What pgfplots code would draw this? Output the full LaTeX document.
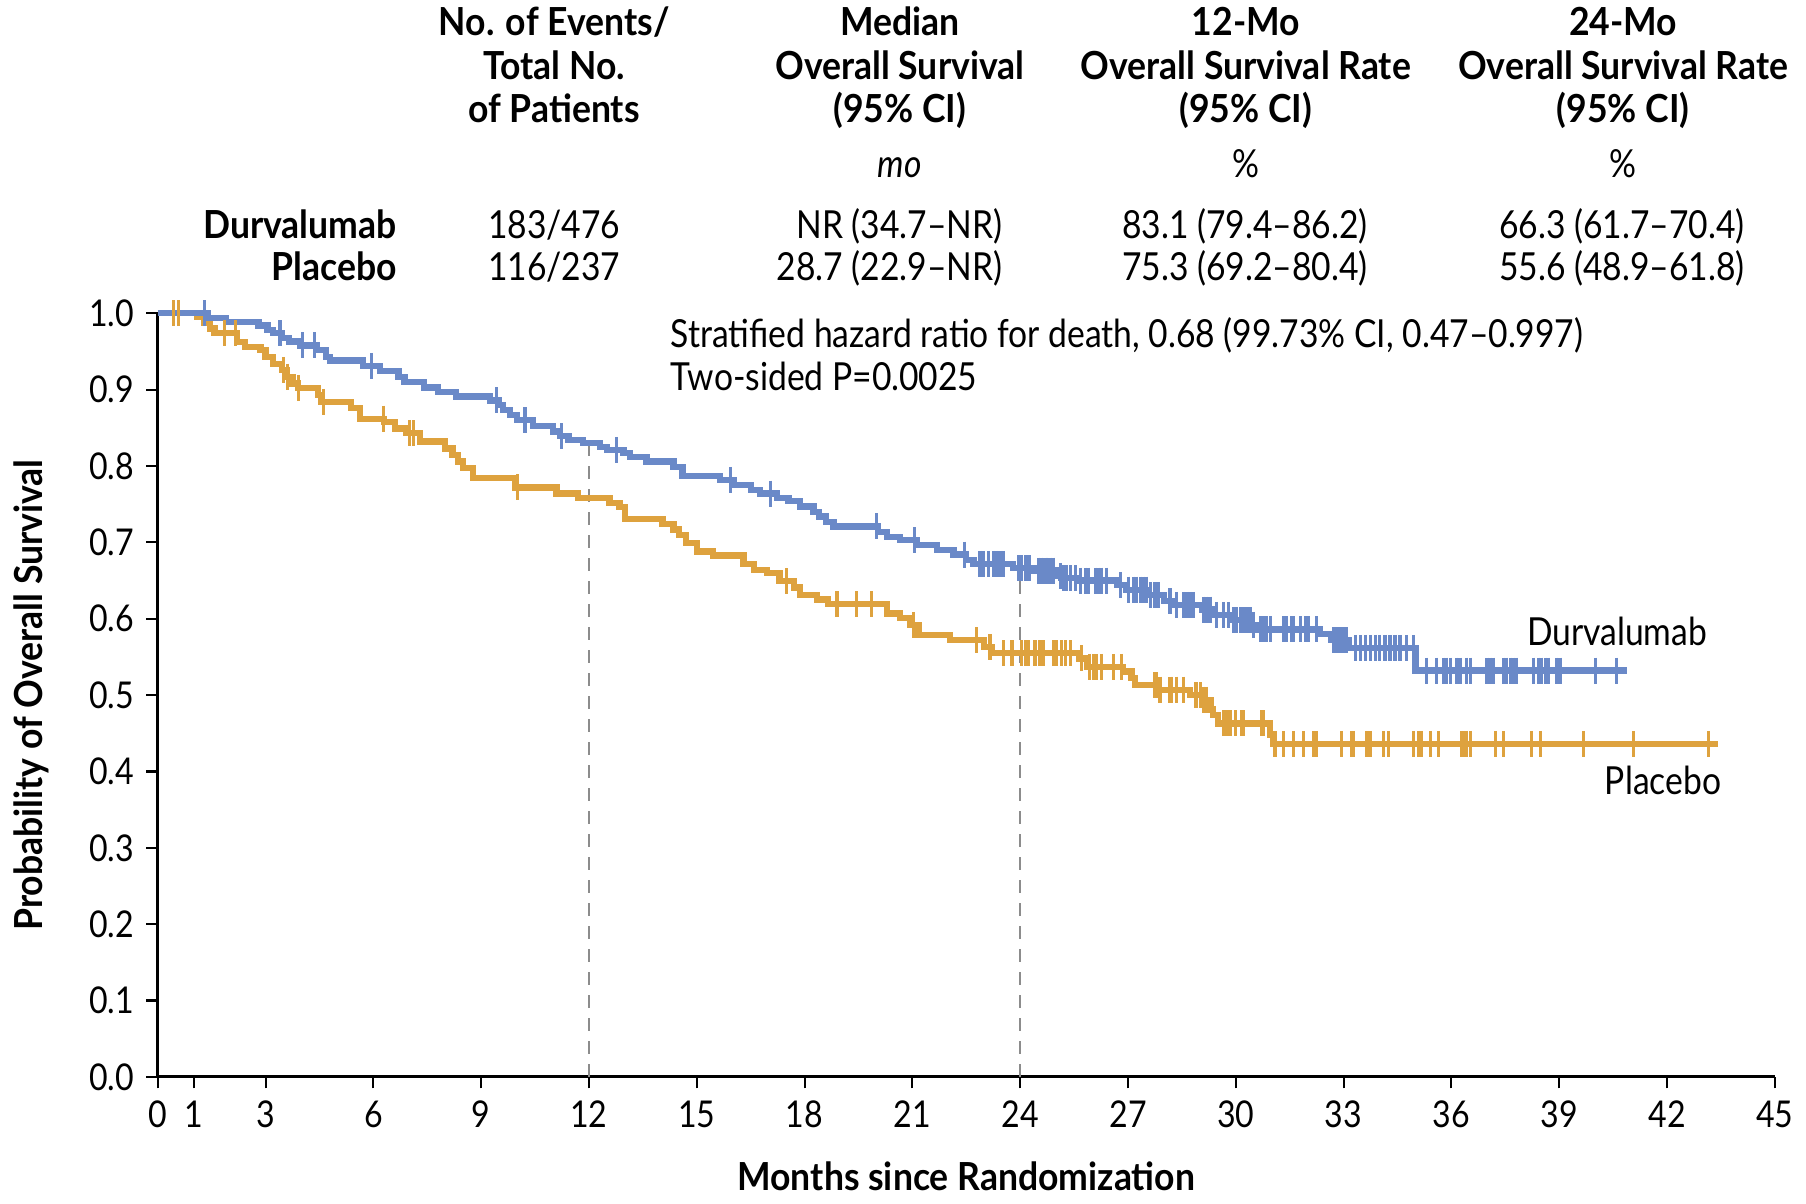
\documentclass[border=0pt]{standalone}
\usepackage{fontspec}
\setmainfont{Lato}[FakeStretch=0.87, BoldFeatures={FakeStretch=0.92}]
\usepackage{pgfplots}
\usepackage{pgfplotstable}
\pgfplotsset{compat=1.18}

\definecolor{durva}{RGB}{106,137,200}
\definecolor{plac}{RGB}{222,162,62}
\definecolor{refline}{RGB}{140,140,140}

% Kaplan-Meier steps: t = month, s = survival, c = 1 for a censored patient
\pgfplotstableread{
t s c
0 1.000 0
1.30 1.000 1
1.40 0.994 0
1.90 0.989 0
2.80 0.984 0
3.05 0.978 0
3.20 0.974 0
3.40 0.974 1
3.45 0.968 0
3.65 0.963 0
3.95 0.958 0
4.02 0.958 1
4.37 0.958 1
4.42 0.952 0
4.68 0.943 0
4.80 0.938 0
5.72 0.931 0
5.95 0.931 1
6.18 0.924 0
6.70 0.917 0
6.87 0.910 0
7.40 0.903 0
7.80 0.897 0
8.30 0.891 0
9.25 0.886 0
9.43 0.886 1
9.48 0.880 0
9.60 0.873 0
9.80 0.867 0
10.00 0.860 0
10.22 0.860 1
10.45 0.852 0
11.00 0.845 0
11.20 0.839 0
11.24 0.839 1
11.43 0.834 0
11.84 0.830 0
12.30 0.825 0
12.50 0.821 0
12.77 0.821 1
12.96 0.817 0
13.14 0.812 0
13.60 0.806 0
14.35 0.799 0
14.60 0.787 0
15.65 0.782 0
15.93 0.782 1
16.02 0.775 0
16.50 0.769 0
16.76 0.764 0
17.04 0.764 1
17.23 0.758 0
17.55 0.754 0
17.87 0.747 0
18.25 0.740 0
18.40 0.734 0
18.60 0.727 0
18.80 0.721 0
20.00 0.721 1
20.05 0.714 0
20.29 0.707 0
20.66 0.703 0
21.07 0.703 1
21.13 0.697 0
21.68 0.690 0
22.14 0.684 0
22.46 0.684 1
22.50 0.677 0
22.70 0.672 0
22.88 0.672 1
22.98 0.672 1
23.12 0.672 1
23.26 0.672 1
23.35 0.672 1
23.44 0.672 1
23.49 0.672 1
23.53 0.672 1
23.80 0.666 0
23.95 0.666 1
24.04 0.666 1
24.14 0.666 1
24.23 0.666 1
24.27 0.666 1
24.37 0.663 0
24.51 0.663 1
24.60 0.663 1
24.69 0.663 1
24.74 0.663 1
24.83 0.663 1
24.92 0.663 1
25.00 0.656 0
25.11 0.656 1
25.15 0.653 0
25.20 0.653 1
25.29 0.653 1
25.39 0.653 1
25.53 0.653 1
25.60 0.650 0
25.67 0.650 1
25.81 0.650 1
25.90 0.650 1
26.09 0.650 1
26.18 0.650 1
26.27 0.650 1
26.41 0.650 1
26.69 0.644 0
26.78 0.644 1
26.95 0.638 0
27.01 0.638 1
27.15 0.638 1
27.24 0.638 1
27.34 0.638 1
27.43 0.638 1
27.52 0.638 1
27.58 0.631 0
27.62 0.631 1
27.75 0.631 1
27.85 0.631 1
28.00 0.623 0
28.17 0.623 1
28.30 0.618 0
28.36 0.618 1
28.54 0.618 1
28.64 0.618 1
28.73 0.618 1
28.82 0.618 1
29.05 0.612 0
29.10 0.612 1
29.19 0.612 1
29.28 0.612 1
29.40 0.605 0
29.47 0.605 1
29.66 0.605 1
29.79 0.605 1
29.88 0.598 0
29.93 0.598 1
30.03 0.598 1
30.12 0.598 1
30.21 0.598 1
30.31 0.598 1
30.40 0.598 1
30.45 0.592 0
30.49 0.592 1
30.60 0.586 0
30.68 0.586 1
30.77 0.586 1
30.86 0.586 1
30.96 0.586 1
31.33 0.586 1
31.42 0.586 1
31.56 0.586 1
31.61 0.586 1
31.79 0.586 1
31.93 0.586 1
32.02 0.586 1
32.25 0.586 1
32.35 0.580 0
32.65 0.572 0
32.72 0.572 1
32.81 0.572 1
32.90 0.572 1
33.00 0.572 1
33.09 0.572 1
33.15 0.562 0
33.32 0.562 1
33.46 0.562 1
33.60 0.562 1
33.74 0.562 1
33.88 0.562 1
34.00 0.562 1
34.15 0.562 1
34.29 0.562 1
34.43 0.562 1
34.57 0.562 1
34.76 0.562 1
34.94 0.562 1
35.00 0.532 0
35.31 0.532 1
35.59 0.532 1
35.78 0.532 1
35.87 0.532 1
35.97 0.532 1
36.15 0.532 1
36.24 0.532 1
36.43 0.532 1
36.52 0.532 1
36.99 0.532 1
37.08 0.532 1
37.17 0.532 1
37.45 0.532 1
37.54 0.532 1
37.64 0.532 1
37.73 0.532 1
37.82 0.532 1
38.28 0.532 1
38.42 0.532 1
38.51 0.532 1
38.61 0.532 1
38.70 0.532 1
38.93 0.532 1
39.02 0.532 1
40.00 0.532 1
40.60 0.532 1
40.88 0.532 0
}\durvatab

\pgfplotstableread{
t s c
0 1.000 0
0.43 1.000 1
0.57 1.000 1
1.10 0.995 0
1.30 0.987 0
1.45 0.980 0
1.58 0.974 0
1.85 0.974 1
2.17 0.974 1
2.20 0.962 0
2.43 0.956 0
2.86 0.952 0
3.00 0.943 0
3.20 0.934 0
3.45 0.926 0
3.50 0.926 1
3.60 0.917 0
3.62 0.917 1
3.75 0.908 0
3.90 0.902 0
3.92 0.902 1
4.46 0.893 0
4.56 0.884 0
4.62 0.884 1
5.37 0.876 0
5.63 0.862 0
6.27 0.862 1
6.30 0.858 0
6.60 0.849 0
6.90 0.843 0
7.00 0.843 1
7.12 0.843 1
7.30 0.832 0
8.00 0.823 0
8.20 0.814 0
8.35 0.806 0
8.50 0.797 0
8.78 0.784 0
9.95 0.772 0
10.00 0.772 1
11.10 0.764 0
11.70 0.758 0
12.57 0.752 0
12.85 0.746 0
13.00 0.731 0
14.05 0.724 0
14.35 0.717 0
14.50 0.710 0
14.70 0.699 0
15.00 0.688 0
15.46 0.683 0
16.30 0.672 0
16.60 0.664 0
16.95 0.660 0
17.30 0.649 0
17.50 0.649 1
17.70 0.641 0
17.87 0.631 0
18.34 0.625 0
18.66 0.619 0
18.90 0.619 1
19.45 0.619 1
19.87 0.619 1
20.30 0.607 0
20.66 0.601 0
20.94 0.592 0
21.03 0.592 1
21.17 0.579 0
22.05 0.572 0
22.79 0.572 1
23.00 0.563 0
23.16 0.563 1
23.20 0.555 0
23.53 0.555 1
23.77 0.555 1
24.04 0.555 1
24.14 0.555 1
24.23 0.555 1
24.41 0.555 1
24.55 0.555 1
24.65 0.555 1
24.92 0.555 1
25.02 0.555 1
25.16 0.555 1
25.25 0.555 1
25.39 0.555 1
25.65 0.548 0
25.71 0.548 1
25.85 0.537 0
25.94 0.537 1
26.04 0.537 1
26.13 0.537 1
26.27 0.537 1
26.60 0.537 1
26.83 0.537 1
26.87 0.531 0
27.10 0.522 0
27.20 0.513 0
27.75 0.513 1
27.80 0.513 1
27.85 0.507 0
27.89 0.507 1
28.17 0.507 1
28.22 0.507 1
28.36 0.507 1
28.54 0.507 1
28.73 0.500 0
28.87 0.500 1
28.91 0.500 1
29.01 0.500 1
29.05 0.494 0
29.10 0.494 1
29.19 0.494 1
29.30 0.481 0
29.37 0.474 0
29.50 0.463 0
29.66 0.463 1
29.75 0.463 1
29.84 0.463 1
29.98 0.463 1
30.17 0.463 1
30.21 0.463 1
30.72 0.463 1
30.77 0.463 1
30.95 0.448 0
31.05 0.436 0
31.09 0.436 1
31.33 0.436 1
31.61 0.436 1
31.88 0.436 1
32.16 0.436 1
32.25 0.436 1
32.95 0.436 1
33.23 0.436 1
33.27 0.436 1
33.65 0.436 1
33.74 0.436 1
34.11 0.436 1
34.25 0.436 1
34.94 0.436 1
35.08 0.436 1
35.17 0.436 1
35.41 0.436 1
35.64 0.436 1
36.29 0.436 1
36.34 0.436 1
36.43 0.436 1
36.52 0.436 1
37.22 0.436 1
37.45 0.436 1
38.24 0.436 1
38.47 0.436 1
39.68 0.436 1
41.07 0.436 1
43.16 0.436 1
43.43 0.436 0
}\plactab

\begin{document}
\begin{tikzpicture}
\useasboundingbox (-15.78mm,-12.71mm) rectangle (164.82mm,107.69mm);
\begin{axis}[
  scale only axis, width=161.7mm, height=76.36mm,
  xmin=0, xmax=45, ymin=0, ymax=1,
  axis lines=left, axis line style={-, line width=0.9pt},
  tick align=outside, major tick length=1.15mm,
  tick style={black, line width=0.6pt},
  xtick={0,1,3,6,9,12,15,18,21,24,27,30,33,36,39,42,45},
  ytick={0,0.1,0.2,0.3,0.4,0.5,0.6,0.7,0.8,0.9,1.0},
  yticklabel style={/pgf/number format/.cd, fixed, fixed zerofill, precision=1},
  /pgf/number format/assume math mode=true,
  ticklabel style={font=\fontsize{10.5}{12}\selectfont},
  clip=false,
  font=\fontsize{10.5}{12}\selectfont,
]
\addplot[refline, line width=0.6pt, dash pattern=on 1.3mm off 1mm] coordinates {(12,0) (12,0.830)};
\addplot[refline, line width=0.6pt, dash pattern=on 1.3mm off 1mm] coordinates {(24,0) (24,0.665)};

\addplot[const plot, plac, line width=1.8pt] table[x=t, y=s] {\plactab};
\addplot[only marks, mark=|, mark size=1.3mm, plac, mark options={line width=0.9pt},
  restrict expr to domain={\thisrow{c}}{0.5:1.5}] table[x=t, y=s] {\plactab};
\addplot[const plot, durva, line width=1.8pt] table[x=t, y=s] {\durvatab};
\addplot[only marks, mark=|, mark size=1.3mm, durva, mark options={line width=0.9pt},
  restrict expr to domain={\thisrow{c}}{0.5:1.5}] table[x=t, y=s] {\durvatab};

% header table
\begin{scope}[every node/.style={anchor=base, font=\fontsize{11}{13}\selectfont\bfseries}]
\node at (axis cs:11.03,1.3635) {No. of Events/};
\node at (axis cs:11.03,1.3062) {Total No.};
\node at (axis cs:11.03,1.2505) {of Patients};
\node at (axis cs:20.65,1.3635) {Median};
\node at (axis cs:20.65,1.3062) {Overall Survival};
\node at (axis cs:20.65,1.2505) {(95\% CI)};
\node at (axis cs:30.28,1.3635) {12-Mo};
\node at (axis cs:30.28,1.3062) {Overall Survival Rate};
\node at (axis cs:30.28,1.2505) {(95\% CI)};
\node at (axis cs:40.78,1.3635) {24-Mo};
\node at (axis cs:40.78,1.3062) {Overall Survival Rate};
\node at (axis cs:40.78,1.2505) {(95\% CI)};
\node[anchor=base east, inner sep=0pt] at (axis cs:6.67,1.098) {Durvalumab};
\node[anchor=base east, inner sep=0pt] at (axis cs:6.67,1.0423) {Placebo};
\end{scope}
\begin{scope}[every node/.style={anchor=base, font=\fontsize{11}{13}\selectfont}]
\node at (axis cs:20.65,1.178) {\itshape mo};
\node at (axis cs:30.29,1.178) {\%};
\node at (axis cs:40.77,1.178) {\%};
\node at (axis cs:11.03,1.098) {183/476};
\node at (axis cs:11.03,1.0423) {116/237};
\node[anchor=base east, inner sep=0pt] at (axis cs:23.53,1.098) {NR (34.7–NR)};
\node[anchor=base east, inner sep=0pt] at (axis cs:23.53,1.0423) {28.7 (22.9–NR)};
\node at (axis cs:30.26,1.098) {83.1 (79.4–86.2)};
\node at (axis cs:30.26,1.0423) {75.3 (69.2–80.4)};
\node at (axis cs:40.75,1.098) {66.3 (61.7–70.4)};
\node at (axis cs:40.75,1.0423) {55.6 (48.9–61.8)};
\node[anchor=base west, inner sep=0pt] at (axis cs:14.26,0.9548) {Stratified hazard ratio for death, 0.68 (99.73\% CI, 0.47–0.997)};
\node[anchor=base west, inner sep=0pt] at (axis cs:14.26,0.899) {Two-sided P=0.0025};
\node at (axis cs:40.61,0.5656) {Durvalumab};
\node at (axis cs:41.89,0.3694) {Placebo};
\end{scope}

\node[anchor=base, font=\fontsize{11}{13}\selectfont\bfseries] at ([yshift=-11.4mm]axis cs:22.5,0) {Months since Randomization};
\node[anchor=base, rotate=90, font=\fontsize{11}{13}\selectfont\bfseries] at ([xshift=-11.5mm]axis cs:0,0.5) {Probability of Overall Survival};
\end{axis}
\end{tikzpicture}
\end{document}
